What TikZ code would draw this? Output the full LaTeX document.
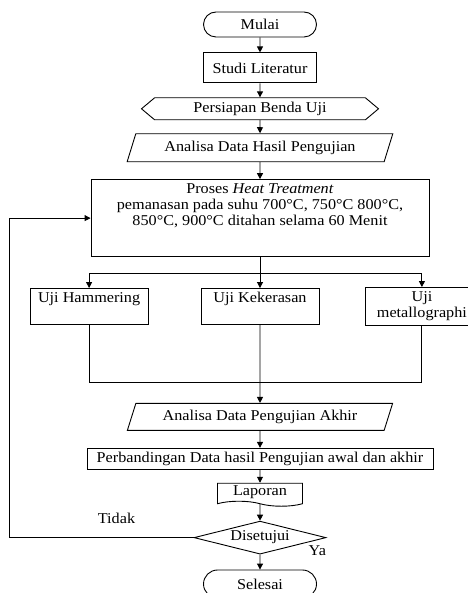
\documentclass[tikz,border=0pt]{standalone}
\usepackage{fontspec}
\setmainfont{Liberation Serif}[FakeStretch=1.08]
\usetikzlibrary{positioning,arrows.meta,shapes.geometric,shapes.misc,shapes.symbols}
\tikzset{
    base/.style = {
        draw,
        inner sep=0pt,
        align=center,
        },
    terminal/.style = {
        base, rounded rectangle,
        minimum width=113pt, minimum height=25pt,
        },
    process/.style = {
        base, rectangle,
        minimum width=113pt, minimum height=30pt,
        },
    prep/.style = {
        base, signal, signal to=west and east, signal pointer angle=80,
        minimum width=237pt, minimum height=22pt,
        },
    io/.style = {
        base, trapezium, trapezium left angle=64, trapezium right angle=116,
        trapezium stretches=true,
        minimum width=266pt, minimum height=28pt,
        },
    test/.style = {
        base, rectangle,
        minimum width=118pt, minimum height=36pt,
        },
    report/.style = {
        base, tape, tape bend top=none, tape bend bottom=out and in,
        tape bend height=5pt,
        minimum width=85pt, minimum height=23pt,
        },
    decision/.style = {
        base, diamond, aspect=4,
        minimum width=132pt, minimum height=33pt,
        },
    label/.style = {
        inner sep=0pt,
        },
}

\begin{document}
\begin{tikzpicture}[->, >={Triangle[length=6pt,width=6pt]}, line width=0.9pt,
    font=\fontsize{15pt}{16pt}\selectfont]
            \useasboundingbox (0,0) rectangle (467pt,-593pt);

            \node[terminal] (mulai) at (260pt,-24.5pt) {Mulai};
            \node[process, below=15pt of mulai] (studi) {Studi Literatur};
            \node[prep, below=14pt of studi] (persiapan) {Persiapan Benda Uji};
            \node[io, below=13pt of persiapan] (analisa) {Analisa Data Hasil Pengujian};
            \node[process, minimum width=338pt, minimum height=77pt, below=17pt of analisa] (proses)
                {\parbox[c][69pt][t]{330pt}{\centering Proses \textit{Heat Treatment}\\
                pemanasan pada suhu 700°C, 750°C 800°C,\\
                850°C, 900°C ditahan selama 60 Menit}};
            \coordinate[below=16pt of proses] (split);

            \node[test, below=31pt of proses] (kekerasan)
                {\parbox[c][28pt][t]{110pt}{\centering Uji Kekerasan}};
            \node[test, left=52pt of kekerasan] (hammering)
                {\parbox[c][28pt][t]{110pt}{\centering Uji Hammering}};
            \node[test, minimum width=112pt, minimum height=38pt, right=46pt of kekerasan] (metallo)
                {\parbox[c][30pt][t]{104pt}{\centering Uji\\ metallographi}};
            \coordinate[below=57pt of kekerasan] (merge);

            \node[io, minimum height=27pt, below=78pt of kekerasan] (akhir) {Analisa Data Pengujian Akhir};
            \node[process, minimum width=346pt, minimum height=21pt, below=17pt of akhir] (banding)
                {Perbandingan Data hasil Pengujian awal dan akhir};
            \node[report, below=13pt of banding] (laporan) {Laporan};
            \node[decision, below=19pt of laporan] (setuju) {Disetujui};
            \node[terminal, minimum height=28pt, below=15pt of setuju] (selesai) {Selesai};
            \coordinate[left=184pt of setuju.west] (balik);

            \node[label, above left=14pt and 58pt of setuju.west] (tidak) {Tidak};
            \node[label, below left=8pt and 0pt of setuju.east] (ya) {Ya};

            \path (mulai) edge (studi);
            \path (studi) edge (persiapan);
            \path (persiapan) edge (analisa);
            \path (analisa) edge (proses);
            \draw[-] (proses) -- (split);
            \draw (split) -| (hammering);
            \draw (split) -- (kekerasan);
            \draw (split) -| (metallo);
            \draw[-] (hammering) |- (merge) -| (metallo);
            \path (kekerasan) edge (akhir);
            \path (akhir) edge (banding);
            \path (banding) edge (laporan);
            \path (laporan) edge (setuju);
            \path (setuju) edge (selesai);
            \draw (setuju.west) -- (balik) |- (proses.west);
        \end{tikzpicture}
\end{document}
